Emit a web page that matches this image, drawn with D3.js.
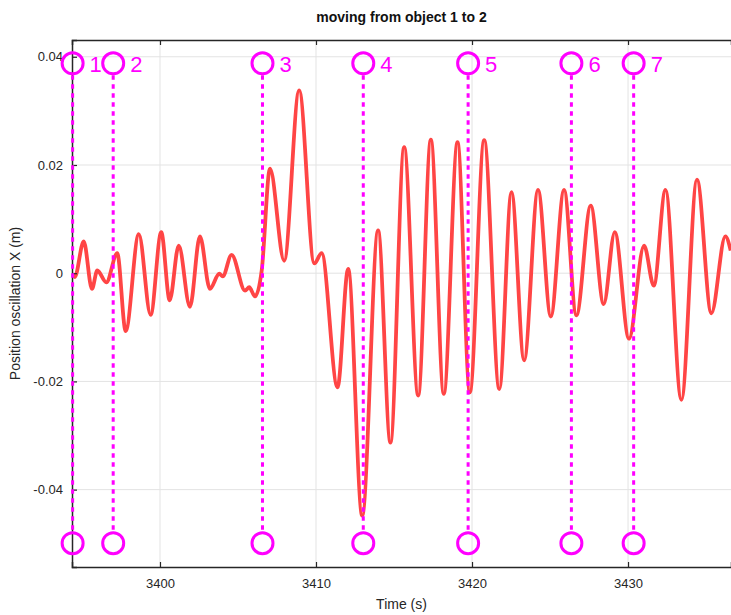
<!DOCTYPE html>
<html>
<head>
<meta charset="utf-8">
<script src="https://cdn.jsdelivr.net/npm/d3@7"></script>
<style>
  body { margin: 0; background: #fff; }
  svg { font-family: "Liberation Sans", Arial, sans-serif; }
</style>
</head>
<body>
<svg id="chart" width="731" height="615"></svg>
<script>
// time (s) of the signal's turning points
const times = [
  3394.36, 3394.54, 3395.11, 3395.64, 3395.98, 3396.56, 3397.26, 3397.80, 3398.64, 3399.40,
  3400.08, 3400.62, 3401.20, 3401.92, 3402.56, 3403.20, 3403.80, 3404.02, 3404.59, 3405.45,
  3405.72, 3406.09, 3406.52, 3407.05, 3407.96, 3408.92, 3409.89, 3410.36, 3411.38, 3412.06,
  3412.96, 3413.98, 3414.77, 3415.65, 3416.55, 3417.36, 3418.19, 3419.07, 3419.86, 3420.78,
  3421.75, 3422.53, 3423.34, 3424.23, 3425.05, 3425.90, 3426.69, 3427.61, 3428.44, 3429.15,
  3430.06, 3431.03, 3431.65, 3432.40, 3433.42, 3434.42, 3435.34, 3436.24, 3436.58
];
// position oscillation X (m) at those times
const positions = [
  -0.0001, -0.0007, 0.0059, -0.0029, 0.0005, -0.0017, 0.0037, -0.0107, 0.0072, -0.0077,
  0.0076, -0.0050, 0.0051, -0.0062, 0.0068, -0.0029, -0.0001, -0.0006, 0.0034, -0.0032,
  -0.0026, -0.0043, 0.0005, 0.0193, 0.0023, 0.0338, 0.0018, 0.0037, -0.0211, 0.0008,
  -0.0448, 0.0079, -0.0313, 0.0233, -0.0226, 0.0247, -0.0223, 0.0242, -0.0220, 0.0246,
  -0.0214, 0.0150, -0.0161, 0.0154, -0.0080, 0.0154, -0.0078, 0.0125, -0.0057, 0.0076,
  -0.0121, 0.0051, -0.0023, 0.0154, -0.0234, 0.0173, -0.0074, 0.0068, 0.0042
];
// object events
const markerTimes = [3394.4, 3397.0, 3406.57, 3413.03, 3419.75, 3426.37, 3430.36];
const markerLabels = ['1', '2', '3', '4', '5', '6', '7'];
const markerTop = 0.0388;
const markerBottom = -0.0499;

const xTicks = [3400, 3410, 3420, 3430];
const yTicks = [-0.04, -0.02, 0, 0.02, 0.04];
const yTickLabels = ['-0.04', '-0.02', '0', '0.02', '0.04'];

const margin = { top: 40, right: 0, bottom: 48, left: 72 };
const width = 731, height = 615;
const innerW = width - margin.left - margin.right;
const innerH = height - margin.top - margin.bottom;

const svg = d3.select('#chart');
const g = svg.append('g').attr('transform', `translate(${margin.left},${margin.top})`);

const x = d3.scaleLinear().domain([3394.36, 3436.6]).range([0, innerW]);
const y = d3.scaleLinear().domain([-0.0543, 0.0431]).range([innerH, 0]);

// grid
g.append('g').selectAll('line').data(xTicks).join('line')
  .attr('x1', d => x(d)).attr('x2', d => x(d))
  .attr('y1', 0).attr('y2', innerH)
  .attr('stroke', '#e3e3e3').attr('stroke-width', 1);
g.append('g').selectAll('line').data(yTicks).join('line')
  .attr('x1', 0).attr('x2', innerW)
  .attr('y1', d => y(d)).attr('y2', d => y(d))
  .attr('stroke', '#e3e3e3').attr('stroke-width', 1);

// signal
const data = times.map((t, i) => ({ t, v: positions[i] }));
svg.append('clipPath').attr('id', 'clip')
  .append('rect').attr('width', innerW).attr('height', innerH);
g.append('path')
  .datum(data)
  .attr('clip-path', 'url(#clip)')
  .attr('fill', 'none')
  .attr('stroke', '#ff4545')
  .attr('stroke-width', 3.8)
  .attr('stroke-linejoin', 'round')
  .attr('d', d3.line().x(d => x(d.t)).y(d => y(d.v)).curve(d3.curveMonotoneX));

// axes, MATLAB-style box with inward ticks
const axisColor = '#262626';
const xAxis = g.append('g').attr('transform', `translate(0,${innerH})`)
  .call(d3.axisBottom(x).tickValues(xTicks).tickSize(-5).tickPadding(12).tickFormat(d3.format('d')));
const yAxis = g.append('g')
  .call(d3.axisLeft(y).tickValues(yTicks).tickSize(-5).tickPadding(9)
    .tickFormat((d, i) => yTickLabels[i]));
const xTop = g.append('g')
  .call(d3.axisTop(x).tickValues(xTicks).tickSize(-5).tickFormat(''));
[xAxis, yAxis, xTop].forEach(a => {
  a.select('.domain').attr('stroke', axisColor).attr('stroke-width', 1.5);
  a.selectAll('.tick line').attr('stroke', axisColor).attr('stroke-width', 1.2);
  a.selectAll('.tick text').attr('fill', axisColor).attr('font-size', 13)
    .attr('font-family', '"Liberation Sans", Arial, sans-serif');
});

// markers
const mk = g.append('g');
mk.selectAll('line').data(markerTimes).join('line')
  .attr('x1', d => x(d)).attr('x2', d => x(d))
  .attr('y1', y(markerTop) + 12).attr('y2', y(markerBottom) - 11)
  .attr('stroke', '#ff00ff').attr('stroke-width', 3)
  .attr('stroke-dasharray', '4.5,4.5');
[markerTop, markerBottom].forEach(level => {
  mk.append('g').selectAll('circle').data(markerTimes).join('circle')
    .attr('cx', d => x(d)).attr('cy', y(level)).attr('r', 10.5)
    .attr('fill', 'none').attr('stroke', '#ff00ff').attr('stroke-width', 3);
});
mk.append('g').selectAll('text').data(markerTimes).join('text')
  .attr('x', d => x(d) + 17).attr('y', y(markerTop) + 9)
  .attr('fill', '#ff00ff').attr('font-size', 22)
  .text((d, i) => markerLabels[i]);

// labels
svg.append('text')
  .attr('x', margin.left + innerW / 2).attr('y', 22)
  .attr('text-anchor', 'middle').attr('font-size', 14).attr('font-weight', 'bold')
  .attr('fill', '#111')
  .text('moving from object 1 to 2');
svg.append('text')
  .attr('x', margin.left + innerW / 2).attr('y', 609)
  .attr('text-anchor', 'middle').attr('font-size', 14).attr('fill', axisColor)
  .text('Time (s)');
svg.append('text')
  .attr('transform', `translate(20,${margin.top + innerH / 2}) rotate(-90)`)
  .attr('text-anchor', 'middle').attr('font-size', 14).attr('fill', axisColor)
  .text('Position oscillation X (m)');
</script>
</body>
</html>
